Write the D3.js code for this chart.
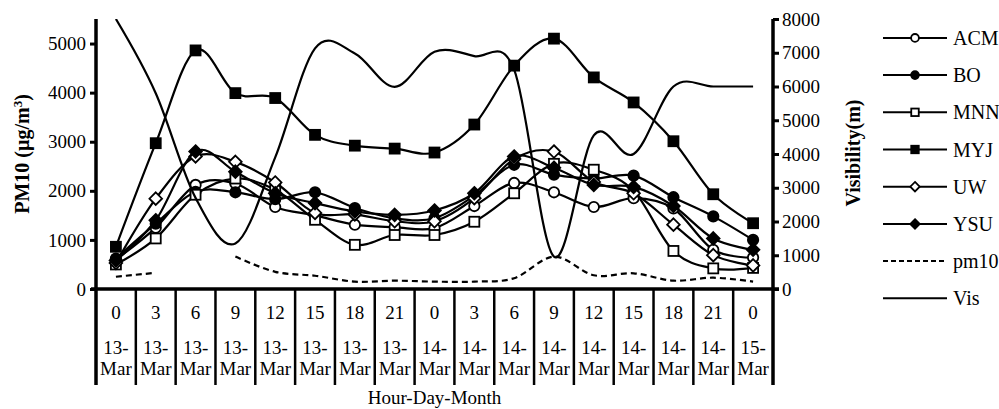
<!DOCTYPE html>
<html>
<head>
<meta charset="utf-8">
<script src="https://cdn.jsdelivr.net/npm/d3@7"></script>
<style>
  html, body { margin: 0; padding: 0; background: #fff; }
  svg text { font-family: "Liberation Serif", "Times New Roman", serif; fill: #000; }
</style>
</head>
<body>
<svg id="chart" width="999" height="409"></svg>
<script>
// ---------------- data ----------------
const hours = ["0","3","6","9","12","15","18","21","0","3","6","9","12","15","18","21","0"];
const days  = ["13-Mar","13-Mar","13-Mar","13-Mar","13-Mar","13-Mar","13-Mar","13-Mar",
               "14-Mar","14-Mar","14-Mar","14-Mar","14-Mar","14-Mar","14-Mar","14-Mar","15-Mar"];

const ACM  = [600, 1250, 2120, 2150, 1670, 1500, 1310, 1260, 1240, 1690, 2160, 1970, 1670, 1850, 1640, 800, 640];
const BO   = [620, 1330, 1980, 1970, 1830, 1970, 1650, 1440, 1440, 1900, 2530, 2330, 2250, 2310, 1870, 1480, 1000];
const MNN  = [500, 1030, 1920, 2250, 2020, 1410, 900, 1100, 1100, 1370, 1950, 2550, 2430, 2000, 775, 420, 430];
const MYJ  = [860, 2970, 4860, 3990, 3890, 3140, 2920, 2860, 2780, 3350, 4550, 5100, 4310, 3800, 3010, 1930, 1340];
const UW   = [530, 1840, 2700, 2590, 2170, 1550, 1520, 1380, 1380, 1850, 2650, 2800, 2180, 1950, 1310, 690, 480];
const YSU  = [580, 1400, 2800, 2390, 1950, 1750, 1580, 1510, 1600, 1950, 2700, 2470, 2120, 2080, 1690, 1030, 800];
const pm10 = [250, 330, null, 660, 350, 270, 150, 170, 150, 150, 220, 660, 280, 320, 170, 230, 150];
const Vis  = [8000, 5800, 2700, 1350, 3900, 7130, 6980, 5990, 7030, 6900, 6500, 960, 4550, 4000, 6000, 6000, 6000];

const leftTicks  = [0, 1000, 2000, 3000, 4000, 5000];
const rightTicks = [0, 1000, 2000, 3000, 4000, 5000, 6000, 7000, 8000];
const seriesNames = ["ACM", "BO", "MNN", "MYJ", "UW", "YSU", "pm10", "Vis"];

// ---------------- layout ----------------
const svg = d3.select("#chart");
const L = 96, R = 773, T = 19, B = 289;
const x = d3.scaleBand().domain(d3.range(hours.length)).range([L, R]).padding(0);
const cx = i => x(i) + x.bandwidth() / 2;
const yL = d3.scaleLinear().domain([0, 5500]).range([B, T]);
const yR = d3.scaleLinear().domain([0, 8000]).range([B, T]);

svg.append("rect").attr("width", 999).attr("height", 409).attr("fill", "#fff");

svg.append("defs").append("clipPath").attr("id", "plotclip")
  .append("rect").attr("x", L).attr("y", T).attr("width", R - L).attr("height", B - T);

// ---------------- axes ----------------
const axL = svg.append("g").attr("transform", `translate(${L},0)`)
  .call(d3.axisLeft(yL).tickValues(leftTicks).tickSize(6).tickSizeOuter(0).tickPadding(4).tickFormat(d3.format("d")));
const axR = svg.append("g").attr("transform", `translate(${R},0)`)
  .call(d3.axisRight(yR).tickValues(rightTicks).tickSize(6).tickSizeOuter(0).tickPadding(3).tickFormat(d3.format("d")));
[axL, axR].forEach(a => {
  a.select(".domain").remove();
  a.selectAll(".tick line").attr("stroke", "#000").attr("stroke-width", 3);
  a.selectAll(".tick text").style("font-size", "19px").attr("font-family", "Liberation Serif");
});
// vertical axis lines (extend down as table borders)
svg.append("line").attr("x1", L).attr("x2", L).attr("y1", T).attr("y2", 385).attr("stroke", "#000").attr("stroke-width", 3.5);
svg.append("line").attr("x1", R).attr("x2", R).attr("y1", T).attr("y2", 385).attr("stroke", "#000").attr("stroke-width", 3.5);
// bottom axis line
svg.append("line").attr("x1", L - 5).attr("x2", R + 6).attr("y1", B).attr("y2", B).attr("stroke", "#000").attr("stroke-width", 3.5);

// category table
const cat = svg.append("g");
d3.range(1, hours.length).forEach(i => {
  cat.append("line").attr("x1", x(i)).attr("x2", x(i)).attr("y1", B).attr("y2", 385)
    .attr("stroke", "#000").attr("stroke-width", 2.5);
});
cat.selectAll("text.hr").data(hours).join("text").attr("class", "hr")
  .attr("x", (d, i) => cx(i)).attr("y", 319).attr("text-anchor", "middle")
  .style("font-size", "19px").text(d => d);
cat.selectAll("text.dd").data(days).join("text").attr("class", "dd")
  .attr("x", (d, i) => cx(i)).attr("y", 354).attr("text-anchor", "middle")
  .style("font-size", "19px").text(d => d.split("-")[0] + "-");
cat.selectAll("text.mm").data(days).join("text").attr("class", "mm")
  .attr("x", (d, i) => cx(i)).attr("y", 375).attr("text-anchor", "middle")
  .style("font-size", "19px").text(d => d.split("-")[1]);

svg.append("text").attr("x", (L + R) / 2).attr("y", 404).attr("text-anchor", "middle")
  .style("font-size", "19px").text("Hour-Day-Month");

// axis titles
const tl = svg.append("text").attr("transform", "translate(29,154) rotate(-90)")
  .attr("text-anchor", "middle").style("font-size", "20px").style("font-weight", "bold");
tl.append("tspan").text("PM10 (µg/m");
tl.append("tspan").attr("baseline-shift", "super").style("font-size", "13px").text("3");
tl.append("tspan").text(")");
svg.append("text").attr("transform", "translate(860,153) rotate(-90)")
  .attr("text-anchor", "middle").style("font-size", "20px").style("font-weight", "bold").text("Visibility(m)");

// ---------------- markers ----------------
function marker(g, type, px, py, s) {
  if (type === "circleOpen" || type === "circleFilled") {
    g.append("circle").attr("cx", px).attr("cy", py).attr("r", 5.2 * s)
      .attr("fill", type === "circleOpen" ? "#fff" : "#000").attr("stroke", "#000").attr("stroke-width", 1.8);
  } else if (type === "squareOpen" || type === "squareFilled") {
    const h = 5 * s;
    g.append("rect").attr("x", px - h).attr("y", py - h).attr("width", 2 * h).attr("height", 2 * h)
      .attr("fill", type === "squareOpen" ? "#fff" : "#000").attr("stroke", "#000").attr("stroke-width", 1.8);
  } else if (type === "diamondOpen" || type === "diamondFilled") {
    const h = 6.3 * s;
    g.append("path").attr("d", `M${px},${py - h}L${px + h},${py}L${px},${py + h}L${px - h},${py}Z`)
      .attr("fill", type === "diamondOpen" ? "#fff" : "#000").attr("stroke", "#000").attr("stroke-width", 1.8);
  }
}

const series = [
  { name: "ACM", data: ACM, m: "circleOpen", axis: yL },
  { name: "BO",  data: BO,  m: "circleFilled", axis: yL },
  { name: "MNN", data: MNN, m: "squareOpen", axis: yL },
  { name: "MYJ", data: MYJ, m: "squareFilled", axis: yL },
  { name: "UW",  data: UW,  m: "diamondOpen", axis: yL },
  { name: "YSU", data: YSU, m: "diamondFilled", axis: yL },
  { name: "pm10", data: pm10, m: null, dash: "6,4", axis: yL },
  { name: "Vis", data: Vis, m: null, axis: yR }
];

const plot = svg.append("g");
series.forEach(s => {
  const line = d3.line().defined(d => d != null)
    .x((d, i) => cx(i)).y(d => s.axis(d)).curve(d3.curveCatmullRom.alpha(0));
  plot.append("path").datum(s.data).attr("d", line).attr("fill", "none")
    .attr("stroke", "#000").attr("stroke-width", 2.2)
    .attr("stroke-dasharray", s.dash || null).attr("clip-path", "url(#plotclip)");
  if (s.m) {
    const mg = plot.append("g");
    s.data.forEach((d, i) => { if (d != null) marker(mg, s.m, cx(i), s.axis(d), 1); });
  }
});

// ---------------- legend ----------------
const lg = svg.append("g");
series.forEach((s, k) => {
  const yy = 37.9 + 37.2 * k;
  lg.append("line").attr("x1", 883).attr("x2", 947).attr("y1", yy).attr("y2", yy)
    .attr("stroke", "#000").attr("stroke-width", 2).attr("stroke-dasharray", s.dash ? "5,3" : null);
  if (s.m) marker(lg, s.m, 915, yy, 0.75);
  lg.append("text").attr("x", 953).attr("y", yy).attr("dy", "0.35em")
    .style("font-size", "20px").text(seriesNames[k]);
});
</script>
</body>
</html>
